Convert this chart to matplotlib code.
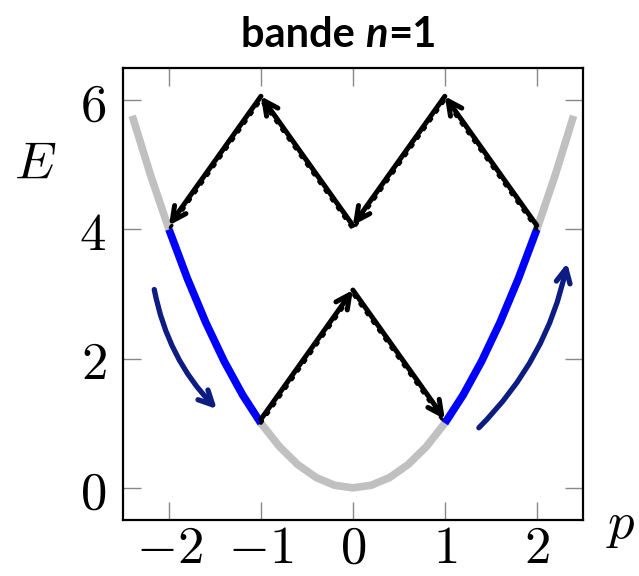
import matplotlib
matplotlib.use("Agg")
import matplotlib.pyplot as plt
import matplotlib.transforms as mtransforms
from matplotlib.offsetbox import TextArea, HPacker, AnchoredOffsetbox

plt.rcParams['mathtext.fontset'] = 'cm'

# Band n=1 : parabola samples
p_vals = [-2.4, -2.2, -2.0, -1.8, -1.6, -1.4, -1.2, -1.0, -0.8, -0.6, -0.4, -0.2, 0.0,
          0.2, 0.4, 0.6, 0.8, 1.0, 1.2, 1.4, 1.6, 1.8, 2.0, 2.2, 2.4]
E_vals = [5.76, 4.84, 4.0, 3.24, 2.56, 1.96, 1.44, 1.0, 0.64, 0.36, 0.16, 0.04, 0.0,
          0.04, 0.16, 0.36, 0.64, 1.0, 1.44, 1.96, 2.56, 3.24, 4.0, 4.84, 5.76]

# zig-zag transitions (arrows)
upper_p = [2, 1, 0, -1, -2]
upper_E = [4, 6, 4, 6, 4]
lower_p = [-1, 0, 1]
lower_E = [1, 3, 1]

# curved hint arrows (start, end)
left_curve = [(-2.16, 3.07), (-1.48, 1.22)]
right_curve = [(1.37, 0.93), (2.33, 3.48)]

xticks = [-2, -1, 0, 1, 2]
yticks = [0, 2, 4, 6]

fig = plt.figure(figsize=(6.39, 5.76), dpi=100)
ax = fig.add_axes([0.1925, 0.097, 0.7195, 0.785])

# gray full parabola, blue for 1 <= |p| <= 2
ax.plot(p_vals, E_vals, color='#c0c0c0', lw=5.5, solid_capstyle='butt', zorder=2)
for sign in (-1, 1):
    bp = [p for p in p_vals if 1.0 <= sign * p <= 2.0]
    bE = [E_vals[p_vals.index(p)] for p in bp]
    ax.plot(bp, bE, color='#0000ff', lw=5.5, solid_capstyle='butt', zorder=3)

# arrows shifted slightly up, with dotted true path
shift = mtransforms.offset_copy(ax.transData, fig=fig, x=0, y=4, units='dots')
for ps, Es in ((upper_p, upper_E), (lower_p, lower_E)):
    ax.plot(ps, Es, color='black', lw=2.4, linestyle=(0, (0.8, 2.4)),
            dash_capstyle='round', zorder=4)
    for i in range(len(ps) - 1):
        ax.annotate('', xy=(ps[i + 1], Es[i + 1]), xytext=(ps[i], Es[i]),
                    xycoords=shift, textcoords=shift,
                    arrowprops=dict(arrowstyle='->,head_length=1.0,head_width=0.5',
                                    color='black', lw=3.6, shrinkA=0, shrinkB=0),
                    zorder=5)

navy = '#0c1c82'
for (start, end) in (left_curve, right_curve):
    ax.annotate('', xy=end, xytext=start,
                arrowprops=dict(arrowstyle='->,head_length=1.0,head_width=0.5',
                                color=navy, lw=3.8, shrinkA=0, shrinkB=0,
                                connectionstyle='arc3,rad=0.15'),
                zorder=5)

ax.set_xlim(-2.5, 2.5)
ax.set_ylim(-0.5, 6.5)
ax.set_xticks(xticks)
ax.set_yticks(yticks)
ax.set_xticklabels([f'${v}$' for v in xticks])
ax.set_yticklabels([f'${v}$' for v in yticks])
ax.tick_params(direction='in', length=13, width=1, color='#888888',
               top=True, right=True, labelsize=38)
ax.tick_params(axis='x', pad=1)
ax.tick_params(axis='y', pad=12)
for s in ax.spines.values():
    s.set_linewidth(1.6)

fig.text(0.055, 0.715, '$E$', fontsize=38, ha='center', va='center')
fig.text(0.972, 0.09, '$p$', fontsize=38, ha='center', va='center')

# title: "bande n=1" with bold italic n
tfont = ['Lato', 'DejaVu Sans']
parts = [TextArea('bande ', textprops=dict(fontsize=30, fontweight='bold', family=tfont)),
         TextArea('n', textprops=dict(fontsize=30, fontweight='bold', style='italic', family=tfont)),
         TextArea('=1', textprops=dict(fontsize=30, fontweight='bold', family=tfont))]
title_box = HPacker(children=parts, pad=0, sep=0, align='baseline')
anchored = AnchoredOffsetbox(loc='center', child=title_box, frameon=False,
                             bbox_to_anchor=(0.53, 0.94), bbox_transform=fig.transFigure,
                             borderpad=0, pad=0)
fig.add_artist(anchored)

fig.savefig('out.png', dpi=100)
